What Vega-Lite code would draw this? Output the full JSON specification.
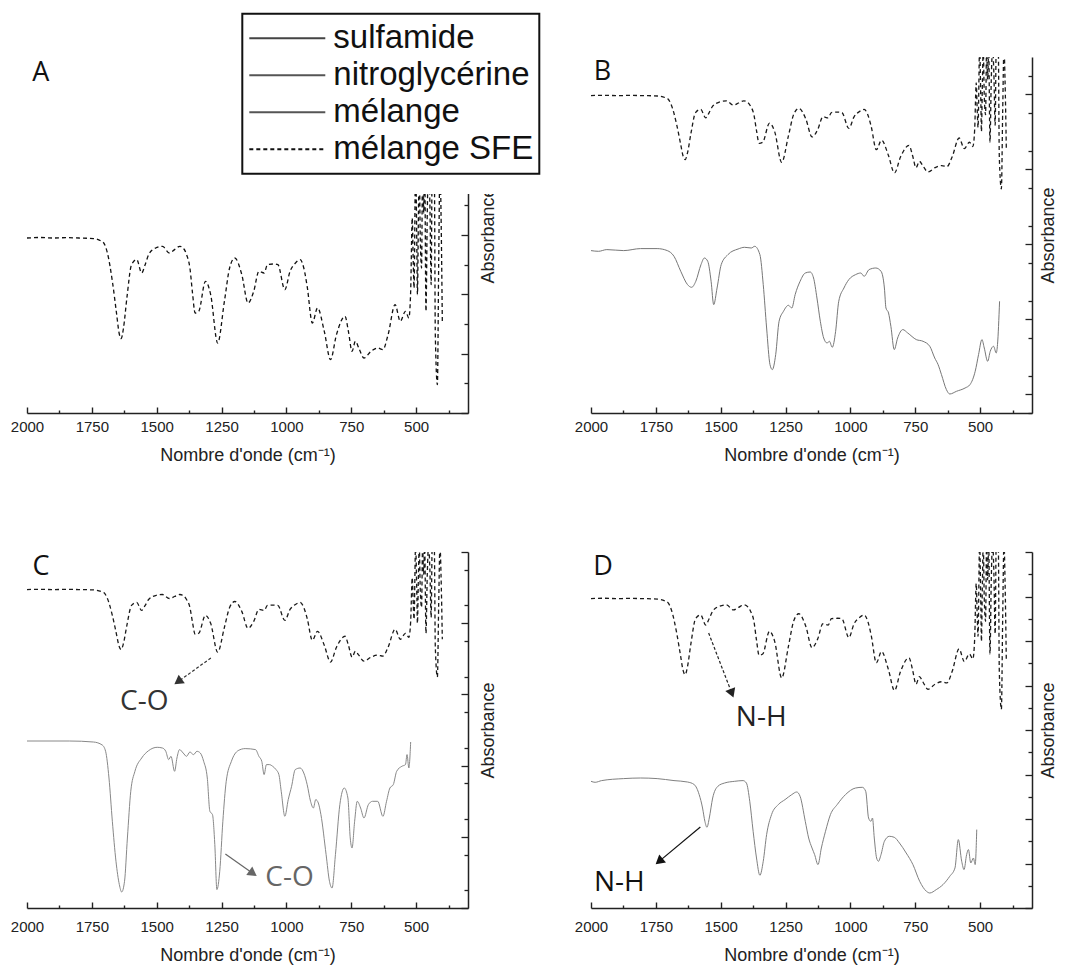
{
"$schema": "https://vega.github.io/schema/vega-lite/v6.json",
"padding": {"left": 10, "top": 12, "right": 8, "bottom": 4},
"config": {"view": {"stroke": null}, "axis": {"grid": false}, "font": "Liberation Sans"},
"datasets": {
"sfe": [{"wn":2000,"v":175},{"wn":1950,"v":175.5},{"wn":1900,"v":175},{"wn":1850,"v":175.3},{"wn":1800,"v":175},{"wn":1744,"v":174.4},{"wn":1715,"v":172},{"wn":1704,"v":170},{"wn":1690,"v":160},{"wn":1670,"v":130},{"wn":1655,"v":100},{"wn":1645,"v":80},{"wn":1637,"v":74.4},{"wn":1628,"v":85},{"wn":1615,"v":115},{"wn":1597,"v":148.4},{"wn":1577,"v":153.4},{"wn":1558,"v":140},{"wn":1545,"v":148},{"wn":1531,"v":158.4},{"wn":1504,"v":165},{"wn":1478,"v":166.7},{"wn":1451,"v":160},{"wn":1431,"v":163.4},{"wn":1411,"v":166.7},{"wn":1395,"v":164},{"wn":1385,"v":158.4},{"wn":1372,"v":145},{"wn":1362,"v":120},{"wn":1352,"v":100},{"wn":1338,"v":101.7},{"wn":1312,"v":131.7},{"wn":1292,"v":118.4},{"wn":1265,"v":70},{"wn":1239,"v":111.7},{"wn":1219,"v":145},{"wn":1199,"v":155},{"wn":1172,"v":138.4},{"wn":1148,"v":110},{"wn":1126,"v":121.7},{"wn":1106,"v":141.7},{"wn":1086,"v":140},{"wn":1073,"v":148.4},{"wn":1050,"v":149},{"wn":1033,"v":148.4},{"wn":1006,"v":123.4},{"wn":986,"v":141.7},{"wn":965,"v":150},{"wn":947,"v":153.4},{"wn":933,"v":145},{"wn":920,"v":126.7},{"wn":900,"v":90},{"wn":880,"v":105},{"wn":854,"v":81.7},{"wn":830,"v":53.4},{"wn":807,"v":78.4},{"wn":774,"v":96.7},{"wn":761,"v":81.7},{"wn":747,"v":61.7},{"wn":734,"v":71.7},{"wn":721,"v":65},{"wn":701,"v":55},{"wn":674,"v":61.7},{"wn":648,"v":65},{"wn":628,"v":63.4},{"wn":608,"v":78.4},{"wn":581,"v":108.4},{"wn":561,"v":91.7},{"wn":541,"v":101.7},{"wn":528,"v":95},{"wn":521,"v":121.7},{"wn":515,"v":195},{"wn":511,"v":150},{"wn":508,"v":125},{"wn":502,"v":250},{"wn":497,"v":160},{"wn":495,"v":118.4},{"wn":491,"v":200},{"wn":488,"v":250},{"wn":484,"v":175},{"wn":479,"v":145},{"wn":475,"v":250},{"wn":471,"v":200},{"wn":467,"v":250},{"wn":462,"v":101.7},{"wn":457,"v":200},{"wn":452,"v":250},{"wn":447,"v":210},{"wn":442,"v":128.4},{"wn":438,"v":250},{"wn":435,"v":240},{"wn":430,"v":250},{"wn":426,"v":78.4},{"wn":418,"v":28.4},{"wn":413,"v":150},{"wn":408,"v":250},{"wn":404,"v":200},{"wn":399,"v":91.7}],
"mel": [{"wn":2000,"h":162.4},{"wn":1971,"h":161.7},{"wn":1939,"h":163.4},{"wn":1874,"h":162.4},{"wn":1809,"h":164.4},{"wn":1745,"h":164.4},{"wn":1706,"h":162.4},{"wn":1680,"h":156.7},{"wn":1654,"h":141.7},{"wn":1628,"h":128.4},{"wn":1612,"h":125.7},{"wn":1596,"h":131.7},{"wn":1576,"h":148.4},{"wn":1563,"h":155},{"wn":1550,"h":151.7},{"wn":1537,"h":131.7},{"wn":1527,"h":108.4},{"wn":1514,"h":125},{"wn":1498,"h":148.4},{"wn":1472,"h":158.4},{"wn":1433,"h":164},{"wn":1408,"h":165.7},{"wn":1382,"h":165},{"wn":1369,"h":166.7},{"wn":1349,"h":158.4},{"wn":1336,"h":128.4},{"wn":1323,"h":85},{"wn":1310,"h":48.4},{"wn":1301,"h":43.4},{"wn":1288,"h":58.4},{"wn":1275,"h":91.7},{"wn":1258,"h":101.7},{"wn":1239,"h":107.7},{"wn":1226,"h":105},{"wn":1213,"h":118.4},{"wn":1194,"h":131.7},{"wn":1174,"h":140},{"wn":1155,"h":141},{"wn":1142,"h":135},{"wn":1129,"h":115},{"wn":1116,"h":91.7},{"wn":1103,"h":75},{"wn":1090,"h":70},{"wn":1081,"h":71.7},{"wn":1070,"h":65.7},{"wn":1057,"h":81.7},{"wn":1045,"h":111.7},{"wn":1025,"h":125},{"wn":1006,"h":133.4},{"wn":980,"h":138.4},{"wn":960,"h":140},{"wn":947,"h":136.7},{"wn":928,"h":143.4},{"wn":902,"h":145},{"wn":882,"h":141.7},{"wn":869,"h":125},{"wn":863,"h":105},{"wn":853,"h":100},{"wn":844,"h":86.7},{"wn":831,"h":63.4},{"wn":818,"h":75},{"wn":798,"h":83.4},{"wn":779,"h":80},{"wn":746,"h":73.4},{"wn":720,"h":71.7},{"wn":694,"h":66.7},{"wn":675,"h":55},{"wn":662,"h":48.4},{"wn":649,"h":38.4},{"wn":630,"h":23.4},{"wn":617,"h":19},{"wn":591,"h":21.7},{"wn":558,"h":25},{"wn":539,"h":28.4},{"wn":519,"h":41.7},{"wn":506,"h":58.4},{"wn":493,"h":73.4},{"wn":484,"h":65},{"wn":471,"h":51.7},{"wn":461,"h":61.7},{"wn":448,"h":66.7},{"wn":438,"h":60},{"wn":433,"h":68.4},{"wn":425,"h":111.7}],
"nitro": [{"wn":2000,"h":167},{"wn":1837,"h":167},{"wn":1744,"h":166},{"wn":1710,"h":163},{"wn":1697,"h":156.7},{"wn":1684,"h":130},{"wn":1671,"h":86.7},{"wn":1657,"h":46.7},{"wn":1644,"h":23.4},{"wn":1635,"h":16},{"wn":1624,"h":26.7},{"wn":1613,"h":70},{"wn":1600,"h":116.7},{"wn":1584,"h":136.7},{"wn":1558,"h":150},{"wn":1531,"h":157.4},{"wn":1498,"h":160.7},{"wn":1478,"h":160},{"wn":1465,"h":156.7},{"wn":1454,"h":148.4},{"wn":1445,"h":151.7},{"wn":1431,"h":136.7},{"wn":1422,"h":150},{"wn":1412,"h":158.4},{"wn":1398,"h":155},{"wn":1385,"h":151.7},{"wn":1372,"h":156},{"wn":1358,"h":153.4},{"wn":1345,"h":156.7},{"wn":1332,"h":155},{"wn":1319,"h":146.7},{"wn":1305,"h":130},{"wn":1295,"h":96.7},{"wn":1285,"h":93.4},{"wn":1276,"h":63.4},{"wn":1268,"h":18.4},{"wn":1257,"h":36.7},{"wn":1245,"h":86.7},{"wn":1232,"h":126.7},{"wn":1212,"h":146.7},{"wn":1186,"h":157.4},{"wn":1159,"h":159.4},{"wn":1119,"h":158.4},{"wn":1106,"h":151.7},{"wn":1095,"h":146.7},{"wn":1086,"h":133.4},{"wn":1077,"h":143.4},{"wn":1066,"h":143.4},{"wn":1053,"h":141.7},{"wn":1040,"h":138.4},{"wn":1029,"h":133.4},{"wn":1020,"h":116.7},{"wn":1006,"h":91.7},{"wn":993,"h":108.4},{"wn":980,"h":121.7},{"wn":966,"h":138.4},{"wn":947,"h":140},{"wn":933,"h":135},{"wn":920,"h":123.4},{"wn":907,"h":106.7},{"wn":896,"h":100},{"wn":887,"h":108.4},{"wn":877,"h":105},{"wn":867,"h":93.4},{"wn":847,"h":53.4},{"wn":834,"h":26.7},{"wn":824,"h":20},{"wn":811,"h":53.4},{"wn":794,"h":103.4},{"wn":777,"h":120},{"wn":763,"h":110},{"wn":754,"h":70},{"wn":747,"h":60},{"wn":737,"h":86.7},{"wn":727,"h":106.7},{"wn":714,"h":100},{"wn":701,"h":90},{"wn":684,"h":103.4},{"wn":668,"h":106.7},{"wn":648,"h":106.7},{"wn":628,"h":91.7},{"wn":614,"h":106.7},{"wn":601,"h":120},{"wn":588,"h":123.4},{"wn":575,"h":136.7},{"wn":555,"h":141.7},{"wn":541,"h":143.4},{"wn":535,"h":153.4},{"wn":528,"h":140},{"wn":521,"h":166}],
"sulfa": [{"wn":2000,"h":126.7},{"wn":1984,"h":125.7},{"wn":1959,"h":127.4},{"wn":1874,"h":129.4},{"wn":1809,"h":130},{"wn":1745,"h":129.4},{"wn":1680,"h":127.4},{"wn":1628,"h":126},{"wn":1602,"h":123.4},{"wn":1583,"h":113.4},{"wn":1570,"h":100},{"wn":1561,"h":86.7},{"wn":1553,"h":80.7},{"wn":1544,"h":90},{"wn":1531,"h":110},{"wn":1511,"h":121.7},{"wn":1485,"h":125},{"wn":1446,"h":126.7},{"wn":1414,"h":127.4},{"wn":1401,"h":125},{"wn":1388,"h":106.7},{"wn":1375,"h":76.7},{"wn":1362,"h":50},{"wn":1349,"h":32.7},{"wn":1336,"h":46.7},{"wn":1323,"h":73.4},{"wn":1304,"h":93.4},{"wn":1278,"h":103.4},{"wn":1252,"h":108.4},{"wn":1226,"h":113.4},{"wn":1207,"h":116},{"wn":1194,"h":111.7},{"wn":1174,"h":86.7},{"wn":1161,"h":70},{"wn":1148,"h":60},{"wn":1138,"h":53.4},{"wn":1125,"h":43.4},{"wn":1112,"h":60},{"wn":1096,"h":76.7},{"wn":1077,"h":93.4},{"wn":1051,"h":103.4},{"wn":1019,"h":113.4},{"wn":980,"h":120},{"wn":954,"h":120.7},{"wn":941,"h":116.7},{"wn":930,"h":90},{"wn":921,"h":86.7},{"wn":915,"h":90},{"wn":908,"h":70},{"wn":899,"h":50},{"wn":892,"h":46.7},{"wn":882,"h":53.4},{"wn":869,"h":66.7},{"wn":850,"h":71.7},{"wn":831,"h":70.7},{"wn":811,"h":65},{"wn":785,"h":55},{"wn":759,"h":43.4},{"wn":733,"h":26.7},{"wn":707,"h":16.7},{"wn":694,"h":15},{"wn":669,"h":18.4},{"wn":643,"h":23.4},{"wn":617,"h":31.7},{"wn":597,"h":40},{"wn":584,"h":68.4},{"wn":571,"h":46.7},{"wn":562,"h":38.4},{"wn":552,"h":53.4},{"wn":545,"h":58.4},{"wn":536,"h":45},{"wn":526,"h":50},{"wn":519,"h":43.4},{"wn":513,"h":78.4}]
},
"columns": 2,
"bounds": "flush",
"spacing": {"row": 139, "column": 123},
"concat": [
{
"width": 441, "height": 356,
"resolve": {"scale": {"x": "independent", "y": "independent"}},
"layer": [
{"data": {"name": "sfe"}, "mark": {"type": "line", "strokeWidth": 1.3, "interpolate": "monotone"},
 "encoding": {
  "x": {"field": "wn", "type": "quantitative", "scale": {"domain": [2000, 300], "nice": false, "zero": false},
   "axis": {"orient": "bottom", "values": [2000,1750,1500,1250,1000,750,500], "format": "d", "tickSize": -6, "labelPadding": 12, "titlePadding": 12, "title": "Nombre d'onde (cm⁻¹)", "domainColor": "#222", "domainWidth": 1.5, "tickColor": "#222", "tickWidth": 1.4, "labelFont": "Liberation Sans", "labelFontSize": 15, "labelColor": "#222", "labelFlush": false, "labelOverlap": false, "titleFont": "Liberation Sans", "titleFontSize": 18, "titleFontWeight": "normal", "titleColor": "#222"}},
  "y": {"field": "v", "type": "quantitative", "scale": {"domain": [0, 356], "nice": false, "zero": false},
   "axis": {"orient": "right", "values": [0,59.333,118.667,178,237.333,296.667,356], "labels": false, "tickSize": -7, "title": "Absorbance", "titleAngle": 270, "titleBaseline": "top", "titlePadding": 10.5, "domainColor": "#222", "domainWidth": 1.5, "tickColor": "#222", "tickWidth": 1.3, "titleFont": "Liberation Sans", "titleFontSize": 18, "titleFontWeight": "normal", "titleColor": "#222"}},
  "color": {"datum": "mélange SFE", "type": "nominal", "scale": {"domain": ["sulfamide", "nitroglycérine", "mélange", "mélange SFE"], "range": ["#444", "#555", "#555", "#111"]},
   "legend": {"title": null, "orient": "none", "legendX": 215.3, "legendY": -43.3, "symbolType": "stroke", "symbolSize": 5776, "symbolStrokeWidth": 2, "clipHeight": 37, "rowPadding": 0, "labelFont": "Liberation Sans", "labelFontSize": 33, "labelColor": "#111", "labelOffset": 7, "labelLimit": 400, "labelExpr": "datum.label + '\u00a0'", "padding": 6, "strokeColor": "#111", "fillColor": "white", "encode": {"legend": {"update": {"strokeWidth": {"value": 2}}}}}},
  "strokeDash": {"datum": "mélange SFE", "type": "nominal", "scale": {"domain": ["sulfamide", "nitroglycérine", "mélange", "mélange SFE"], "range": [[1,0],[1,0],[1,0],[4,3]]},
   "legend": {"title": null, "orient": "none", "legendX": 215.3, "legendY": -43.3, "symbolType": "stroke", "symbolSize": 5776, "symbolStrokeWidth": 2, "clipHeight": 37, "rowPadding": 0, "labelFont": "Liberation Sans", "labelFontSize": 33, "labelColor": "#111", "labelOffset": 7, "labelLimit": 400, "labelExpr": "datum.label + '\u00a0'", "padding": 6, "strokeColor": "#111", "fillColor": "white", "encode": {"legend": {"update": {"strokeWidth": {"value": 2}}}}}}
 }},
{"layer": [
 {"data": {"values": [{}]}, "mark": {"type": "rect", "color": "white"},
  "encoding": {"x": {"datum": 2000, "type": "quantitative", "scale": {"domain": [2000, 300], "nice": false, "zero": false}, "axis": {"orient": "bottom", "offset": -3, "values": [1875,1625,1375,1125,875,625,375], "tickSize": 3, "labels": false, "domain": false, "title": null, "tickColor": "#222", "tickWidth": 1.4}}, "x2": {"datum": 0},
   "y": {"datum": 219, "type": "quantitative", "scale": {"domain": [0, 356], "nice": false, "zero": false}, "axis": {"orient": "right", "values": [29.667,89,148.333,207.667,267,326.333], "tickSize": -4, "labels": false, "domain": false, "title": null, "tickColor": "#222", "tickWidth": 1.3}}, "y2": {"datum": 356}}},
 {"data": {"values": [{}]}, "mark": {"type": "text", "text": "A", "font": "Open Sans", "fontSize": 27, "color": "#111", "align": "center", "baseline": "alphabetic"},
  "encoding": {"x": {"datum": 1947, "type": "quantitative"}, "y": {"datum": 331.7, "type": "quantitative"}}}
]}
]
},
{
"width": 441, "height": 356,
"resolve": {"scale": {"x": "independent", "y": "independent"}},
"layer": [
{"data": {"name": "sfe"}, "mark": {"type": "line", "clip": true, "color": "#1a1a1a", "strokeDash": [4,3], "strokeWidth": 1.3, "interpolate": "monotone"},
 "encoding": {
  "x": {"field": "wn", "type": "quantitative", "scale": {"domain": [2000, 300], "nice": false, "zero": false},
   "axis": {"orient": "bottom", "values": [2000,1750,1500,1250,1000,750,500], "format": "d", "tickSize": -6, "labelPadding": 12, "titlePadding": 12, "title": "Nombre d'onde (cm⁻¹)", "domainColor": "#222", "domainWidth": 1.5, "tickColor": "#222", "tickWidth": 1.4, "labelFont": "Liberation Sans", "labelFontSize": 15, "labelColor": "#222", "labelFlush": false, "labelOverlap": false, "titleFont": "Liberation Sans", "titleFontSize": 18, "titleFontWeight": "normal", "titleColor": "#222"}},
  "y": {"field": "v", "type": "quantitative", "scale": {"domain": [-323.9, 235.7], "nice": false, "zero": false},
   "axis": {"orient": "right", "values": [-323.9,-264.99,-206.09,-147.18,-88.28,-29.37,29.53,88.44,147.35,206.25], "tickSize": -4, "labels": false, "domain": false, "title": null, "tickColor": "#222", "tickWidth": 1.3}}
 }},
{"layer": [
 {"data": {"name": "mel"}, "mark": {"type": "line", "color": "#777", "strokeWidth": 1, "interpolate": "monotone"},
  "encoding": {
   "x": {"field": "wn", "type": "quantitative", "scale": {"domain": [2000, 300], "nice": false, "zero": false}, "axis": {"orient": "bottom", "offset": -3, "values": [1875,1625,1375,1125,875,625,375], "tickSize": 3, "labels": false, "domain": false, "title": null, "tickColor": "#222", "tickWidth": 1.4}},
   "y": {"field": "h", "type": "quantitative", "scale": {"domain": [0, 356], "nice": false, "zero": false},
    "axis": {"orient": "right", "values": [18.737,56.211,93.684,131.158,168.632,206.105,243.579,281.053,318.526,356], "labels": false, "tickSize": -7, "title": "Absorbance", "titleAngle": 270, "titleBaseline": "top", "titlePadding": 7, "domainColor": "#222", "domainWidth": 1.5, "tickColor": "#222", "tickWidth": 1.3, "titleFont": "Liberation Sans", "titleFontSize": 18, "titleFontWeight": "normal", "titleColor": "#222"}}
  }},
 {"data": {"values": [{}]}, "mark": {"type": "text", "text": "B", "font": "Open Sans", "fontSize": 27, "color": "#111", "align": "center", "baseline": "alphabetic"},
  "encoding": {"x": {"datum": 1956, "type": "quantitative"}, "y": {"datum": 332.7, "type": "quantitative"}}}
]}
]
},
{
"width": 441, "height": 356,
"resolve": {"scale": {"x": "independent", "y": "independent"}},
"layer": [
{"data": {"name": "sfe"}, "mark": {"type": "line", "clip": true, "color": "#1a1a1a", "strokeDash": [4,3], "strokeWidth": 1.3, "interpolate": "monotone"},
 "encoding": {
  "x": {"field": "wn", "type": "quantitative", "scale": {"domain": [2000, 300], "nice": false, "zero": false},
   "axis": {"orient": "bottom", "values": [2000,1750,1500,1250,1000,750,500], "format": "d", "tickSize": -6, "labelPadding": 17, "titlePadding": 12, "title": "Nombre d'onde (cm⁻¹)", "domainColor": "#222", "domainWidth": 1.5, "tickColor": "#222", "tickWidth": 1.4, "labelFont": "Liberation Sans", "labelFontSize": 15, "labelColor": "#222", "labelFlush": false, "labelOverlap": false, "titleFont": "Liberation Sans", "titleFontSize": 18, "titleFontWeight": "normal", "titleColor": "#222"}},
  "y": {"field": "v", "type": "quantitative", "scale": {"domain": [-358.9, 238.0], "nice": false, "zero": false},
   "axis": {"orient": "right", "values": [-329.06,-269.37,-209.68,-149.99,-90.30,-30.61,29.09,88.78,148.47,208.16], "tickSize": -4, "labels": false, "domain": false, "title": null, "tickColor": "#222", "tickWidth": 1.3}}
 }},
{"layer": [
 {"data": {"name": "nitro"}, "mark": {"type": "line", "color": "#888", "strokeWidth": 1, "interpolate": "monotone"},
  "encoding": {
   "x": {"field": "wn", "type": "quantitative", "scale": {"domain": [2000, 300], "nice": false, "zero": false}, "axis": {"orient": "bottom", "offset": -3, "values": [1875,1625,1375,1125,875,625,375], "tickSize": 3, "labels": false, "domain": false, "title": null, "tickColor": "#222", "tickWidth": 1.4}},
   "y": {"field": "h", "type": "quantitative", "scale": {"domain": [0, 356], "nice": false, "zero": false},
    "axis": {"orient": "right", "values": [0,35.6,71.2,106.8,142.4,178,213.6,249.2,284.8,320.4,356], "labels": false, "tickSize": -7, "title": "Absorbance", "titleAngle": 270, "titleBaseline": "top", "titlePadding": 10.5, "domainColor": "#222", "domainWidth": 1.5, "tickColor": "#222", "tickWidth": 1.3, "titleFont": "Liberation Sans", "titleFontSize": 18, "titleFontWeight": "normal", "titleColor": "#222"}}
  }},
 {"data": {"values": [{}]}, "mark": {"type": "text", "text": "C", "font": "Open Sans", "fontSize": 27, "color": "#111", "align": "center", "baseline": "alphabetic"},
  "encoding": {"x": {"datum": 1946, "type": "quantitative"}, "y": {"datum": 332.7, "type": "quantitative"}}},
 {"data": {"values": [{}]}, "mark": {"type": "rule", "color": "#333", "strokeDash": [3,2], "strokeWidth": 1.2},
  "encoding": {"x": {"datum": 1291.2, "type": "quantitative"}, "y": {"datum": 250, "type": "quantitative"}, "x2": {"datum": 1417.7}, "y2": {"datum": 226.3}}},
 {"data": {"values": [{}]}, "mark": {"type": "point", "shape": "triangle-up", "filled": true, "size": 110, "angle": 234, "color": "#333", "opacity": 1},
  "encoding": {"x": {"datum": 1417.7, "type": "quantitative"}, "y": {"datum": 226.3, "type": "quantitative"}}},
 {"data": {"values": [{}]}, "mark": {"type": "text", "text": "C-O", "font": "Open Sans", "fontSize": 28, "color": "#333", "align": "center", "baseline": "alphabetic"},
  "encoding": {"x": {"datum": 1548, "type": "quantitative"}, "y": {"datum": 198.4, "type": "quantitative"}}},
 {"data": {"values": [{}]}, "mark": {"type": "rule", "color": "#666", "strokeWidth": 1.2},
  "encoding": {"x": {"datum": 1235.3, "type": "quantitative"}, "y": {"datum": 54, "type": "quantitative"}, "x2": {"datum": 1128.8}, "y2": {"datum": 34.6}}},
 {"data": {"values": [{}]}, "mark": {"type": "point", "shape": "triangle-up", "filled": true, "size": 110, "angle": 125, "color": "#666", "opacity": 1},
  "encoding": {"x": {"datum": 1128.8, "type": "quantitative"}, "y": {"datum": 34.6, "type": "quantitative"}}},
 {"data": {"values": [{}]}, "mark": {"type": "text", "text": "C-O", "font": "Open Sans", "fontSize": 28, "color": "#666", "align": "center", "baseline": "alphabetic"},
  "encoding": {"x": {"datum": 988, "type": "quantitative"}, "y": {"datum": 21.7, "type": "quantitative"}}}
]}
]
},
{
"width": 441, "height": 356,
"resolve": {"scale": {"x": "independent", "y": "independent"}},
"layer": [
{"data": {"name": "sfe"}, "mark": {"type": "line", "clip": true, "color": "#1a1a1a", "strokeDash": [4,3], "strokeWidth": 1.3, "interpolate": "monotone"},
 "encoding": {
  "x": {"field": "wn", "type": "quantitative", "scale": {"domain": [2000, 300], "nice": false, "zero": false},
   "axis": {"orient": "bottom", "values": [2000,1750,1500,1250,1000,750,500], "format": "d", "tickSize": -6, "labelPadding": 17, "titlePadding": 12, "title": "Nombre d'onde (cm⁻¹)", "domainColor": "#222", "domainWidth": 1.5, "tickColor": "#222", "tickWidth": 1.4, "labelFont": "Liberation Sans", "labelFontSize": 15, "labelColor": "#222", "labelFlush": false, "labelOverlap": false, "titleFont": "Liberation Sans", "titleFontSize": 18, "titleFontWeight": "normal", "titleColor": "#222"}},
  "y": {"field": "v", "type": "quantitative", "scale": {"domain": [-234.5, 236.7], "nice": false, "zero": false},
   "axis": {"orient": "right", "values": [-205.05,-146.15,-87.25,-28.35,30.55,89.45,148.35,207.25], "tickSize": -4, "labels": false, "domain": false, "title": null, "tickColor": "#222", "tickWidth": 1.3}}
 }},
{"layer": [
 {"data": {"name": "sulfa"}, "mark": {"type": "line", "color": "#808080", "strokeWidth": 1, "interpolate": "monotone"},
  "encoding": {
   "x": {"field": "wn", "type": "quantitative", "scale": {"domain": [2000, 300], "nice": false, "zero": false}, "axis": {"orient": "bottom", "offset": -3, "values": [1875,1625,1375,1125,875,625,375], "tickSize": 3, "labels": false, "domain": false, "title": null, "tickColor": "#222", "tickWidth": 1.4}},
   "y": {"field": "h", "type": "quantitative", "scale": {"domain": [0, 356], "nice": false, "zero": false},
    "axis": {"orient": "right", "values": [0,44.5,89,133.5,178,222.5,267,311.5,356], "labels": false, "tickSize": -7, "title": "Absorbance", "titleAngle": 270, "titleBaseline": "top", "titlePadding": 7, "domainColor": "#222", "domainWidth": 1.5, "tickColor": "#222", "tickWidth": 1.3, "titleFont": "Liberation Sans", "titleFontSize": 18, "titleFontWeight": "normal", "titleColor": "#222"}}
  }},
 {"data": {"values": [{}]}, "mark": {"type": "text", "text": "D", "font": "Open Sans", "fontSize": 27, "color": "#111", "align": "center", "baseline": "alphabetic"},
  "encoding": {"x": {"datum": 1954, "type": "quantitative"}, "y": {"datum": 332.7, "type": "quantitative"}}},
 {"data": {"values": [{}]}, "mark": {"type": "rule", "color": "#222", "strokeDash": [3,2], "strokeWidth": 1.2},
  "encoding": {"x": {"datum": 1546.5, "type": "quantitative"}, "y": {"datum": 275, "type": "quantitative"}, "x2": {"datum": 1457}, "y2": {"datum": 214.7}}},
 {"data": {"values": [{}]}, "mark": {"type": "point", "shape": "triangle-up", "filled": true, "size": 110, "angle": 159, "color": "#222", "opacity": 1},
  "encoding": {"x": {"datum": 1457, "type": "quantitative"}, "y": {"datum": 214.7, "type": "quantitative"}}},
 {"data": {"values": [{}]}, "mark": {"type": "text", "text": "N-H", "font": "Open Sans", "fontSize": 28, "color": "#222", "align": "center", "baseline": "alphabetic"},
  "encoding": {"x": {"datum": 1344, "type": "quantitative"}, "y": {"datum": 181.7, "type": "quantitative"}}},
 {"data": {"values": [{}]}, "mark": {"type": "rule", "color": "#111", "strokeWidth": 1.2},
  "encoding": {"x": {"datum": 1578.5, "type": "quantitative"}, "y": {"datum": 81, "type": "quantitative"}, "x2": {"datum": 1737.4}, "y2": {"datum": 46.6}}},
 {"data": {"values": [{}]}, "mark": {"type": "point", "shape": "triangle-up", "filled": true, "size": 110, "angle": 230, "color": "#111", "opacity": 1},
  "encoding": {"x": {"datum": 1737.4, "type": "quantitative"}, "y": {"datum": 46.6, "type": "quantitative"}}},
 {"data": {"values": [{}]}, "mark": {"type": "text", "text": "N-H", "font": "Open Sans", "fontSize": 28, "color": "#111", "align": "center", "baseline": "alphabetic"},
  "encoding": {"x": {"datum": 1891, "type": "quantitative"}, "y": {"datum": 17.4, "type": "quantitative"}}}
]}
]
}
]
}
